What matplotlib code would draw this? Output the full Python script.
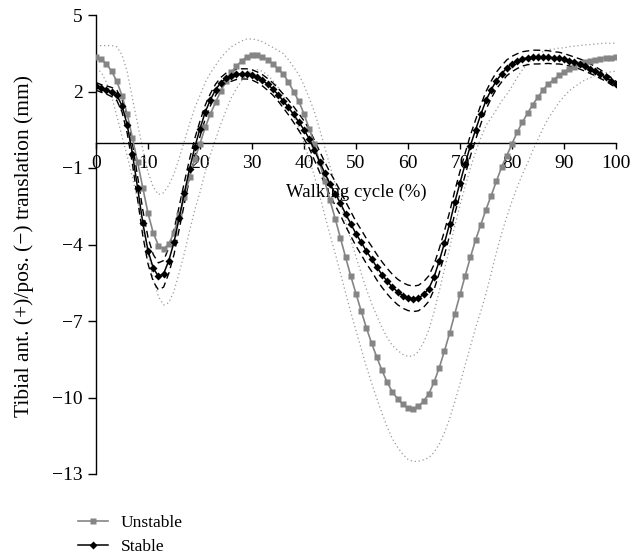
import matplotlib
matplotlib.use("Agg")
import matplotlib.pyplot as plt
import numpy as np

plt.rcParams['font.family'] = ['Liberation Serif', 'DejaVu Serif']

cycle = list(range(0, 101))

unstable_mean = [3.35, 3.28, 3.08, 2.80, 2.40, 1.84, 1.12, 0.18, -0.77, -1.78,
                 -2.77, -3.54, -4.04, -4.17, -3.98, -3.53, -2.86, -2.14, -1.36, -0.64,
                 -0.05, 0.60, 1.12, 1.58, 2.02, 2.40, 2.75, 2.99, 3.20, 3.36,
                 3.44, 3.44, 3.37, 3.24, 3.08, 2.89, 2.69, 2.37, 2.00, 1.62,
                 1.12, 0.54, -0.05, -0.78, -1.52, -2.27, -2.99, -3.74, -4.50, -5.24,
                 -5.93, -6.61, -7.27, -7.87, -8.42, -8.94, -9.40, -9.79, -10.05, -10.27,
                 -10.41, -10.44, -10.35, -10.14, -9.86, -9.40, -8.84, -8.18, -7.48, -6.72,
                 -5.96, -5.22, -4.50, -3.82, -3.22, -2.63, -2.08, -1.52, -0.97, -0.51,
                 -0.05, 0.40, 0.80, 1.15, 1.49, 1.78, 2.07, 2.30, 2.46, 2.63,
                 2.76, 2.89, 2.98, 3.06, 3.14, 3.19, 3.24, 3.28, 3.32, 3.33,
                 3.35]

unstable_sd = [0.45, 0.52, 0.72, 1.00, 1.35, 1.60, 1.65, 1.55, 1.50, 1.52,
               1.60, 1.80, 2.00, 2.20, 2.30, 2.30, 2.25, 2.20, 2.10, 2.00,
               1.90, 1.75, 1.60, 1.45, 1.30, 1.15, 1.00, 0.88, 0.78, 0.70,
               0.62, 0.58, 0.58, 0.60, 0.65, 0.72, 0.80, 0.88, 0.96, 1.05,
               1.12, 1.20, 1.26, 1.30, 1.33, 1.35, 1.36, 1.38, 1.40, 1.42,
               1.45, 1.48, 1.52, 1.56, 1.62, 1.68, 1.75, 1.83, 1.90, 1.96,
               2.02, 2.07, 2.15, 2.30, 2.50, 2.75, 3.00, 3.20, 3.35, 3.45,
               3.50, 3.50, 3.50, 3.45, 3.40, 3.30, 3.05, 2.80, 2.60, 2.40,
               2.25, 2.15, 2.05, 1.95, 1.80, 1.65, 1.50, 1.35, 1.20, 1.07,
               0.95, 0.87, 0.80, 0.74, 0.69, 0.65, 0.62, 0.60, 0.58, 0.56,
               0.55]

stable_mean = [2.20, 2.12, 2.06, 1.98, 1.85, 1.45, 0.69, -0.44, -1.78, -3.15,
               -4.24, -4.92, -5.25, -5.15, -4.63, -3.91, -2.95, -1.97, -1.03, -0.18,
               0.54, 1.19, 1.68, 2.07, 2.35, 2.52, 2.60, 2.67, 2.69, 2.69,
               2.65, 2.56, 2.44, 2.28, 2.10, 1.88, 1.63, 1.38, 1.10, 0.80,
               0.50, 0.15, -0.30, -0.75, -1.20, -1.62, -2.00, -2.38, -2.80, -3.19,
               -3.58, -3.91, -4.26, -4.56, -4.89, -5.18, -5.44, -5.67, -5.86, -6.00,
               -6.09, -6.13, -6.10, -5.96, -5.73, -5.28, -4.65, -3.95, -3.19, -2.34,
               -1.58, -0.84, -0.12, 0.50, 1.10, 1.65, 2.07, 2.43, 2.69, 2.93,
               3.08, 3.19, 3.28, 3.32, 3.35, 3.35, 3.35, 3.35, 3.32, 3.31,
               3.27, 3.21, 3.15, 3.08, 3.00, 2.90, 2.80, 2.68, 2.56, 2.42,
               2.28]

stable_sd = [0.15, 0.15, 0.16, 0.18, 0.20, 0.25, 0.32, 0.40, 0.45, 0.50,
             0.52, 0.53, 0.53, 0.52, 0.50, 0.48, 0.45, 0.42, 0.38, 0.34,
             0.30, 0.27, 0.24, 0.22, 0.20, 0.20, 0.20, 0.20, 0.20, 0.20,
             0.20, 0.21, 0.22, 0.23, 0.24, 0.25, 0.27, 0.29, 0.31, 0.33,
             0.35, 0.37, 0.39, 0.41, 0.43, 0.45, 0.47, 0.47, 0.48, 0.48,
             0.48, 0.49, 0.49, 0.49, 0.50, 0.50, 0.50, 0.50, 0.50, 0.50,
             0.50, 0.50, 0.50, 0.50, 0.50, 0.49, 0.48, 0.47, 0.46, 0.45,
             0.45, 0.43, 0.41, 0.39, 0.37, 0.35, 0.34, 0.33, 0.32, 0.31,
             0.30, 0.29, 0.28, 0.27, 0.27, 0.27, 0.26, 0.25, 0.24, 0.23,
             0.22, 0.21, 0.20, 0.20, 0.20, 0.19, 0.18, 0.17, 0.15, 0.14,
             0.12]

y_ticks = [5, 2, -1, -4, -7, -10, -13]
x_ticks = [0, 10, 20, 30, 40, 50, 60, 70, 80, 90, 100]
labels = ["Unstable", "Stable"]
xlabel = "Walking cycle (%)"
ylabel = "Tibial ant. (+)/pos. (\u2212) translation (mm)"

x = np.array(cycle)
um = np.array(unstable_mean)
us = np.array(unstable_sd)
sm = np.array(stable_mean)
ss = np.array(stable_sd)

fig = plt.figure(figsize=(6.43, 5.6), dpi=100)
ax = fig.add_axes([96/643, 86/560, 520/643, 459/560])

gray = '#858585'
ax.plot(x, um + us, color='#9a9a9a', lw=0.9, ls=(0, (1, 2.2)), zorder=2)
ax.plot(x, um - us, color='#9a9a9a', lw=0.9, ls=(0, (1, 2.2)), zorder=2)
ax.plot(x, sm + ss, color='black', lw=1.0, ls=(0, (5, 3)), zorder=3)
ax.plot(x, sm - ss, color='black', lw=1.0, ls=(0, (5, 3)), zorder=3)
l1, = ax.plot(x, um, color=gray, lw=1.2, marker='s', ms=4.8, mec='none', mfc=gray, zorder=4)
l2, = ax.plot(x, sm, color='black', lw=1.1, marker='D', ms=3.8, mec='none', mfc='black', zorder=5)

ax.set_xlim(0, 100)
ax.set_ylim(-13, 5)
for s in ['top', 'right']:
    ax.spines[s].set_visible(False)
ax.spines['bottom'].set_position(('data', 0))
ax.spines['bottom'].set_linewidth(1.0)
ax.spines['left'].set_linewidth(1.0)
ax.set_xticks(x_ticks)
ax.set_yticks(y_ticks)
ax.tick_params(axis='x', direction='out', length=4, width=1, labelsize=14, pad=5)
ax.tick_params(axis='y', direction='out', length=6, width=1, labelsize=14, pad=3.5)
ax.set_yticklabels([str(v).replace('-', '\u2212') for v in y_ticks])

ax.text(50, -1.96, xlabel, ha='center', va='center', fontsize=13.5)
fig.text(24/643, 1 - 246/560, ylabel, rotation=90, ha='center', va='center', fontsize=15.5)

fig.legend([l1, l2], labels, loc='upper left', bbox_to_anchor=(78/643, 1 - 515/560),
           bbox_transform=fig.transFigure, frameon=False, numpoints=1,
           fontsize=12.5, handlelength=1.75, handletextpad=0.7, labelspacing=0.45,
           borderpad=0, borderaxespad=0)

fig.savefig('out.png', dpi=100)
